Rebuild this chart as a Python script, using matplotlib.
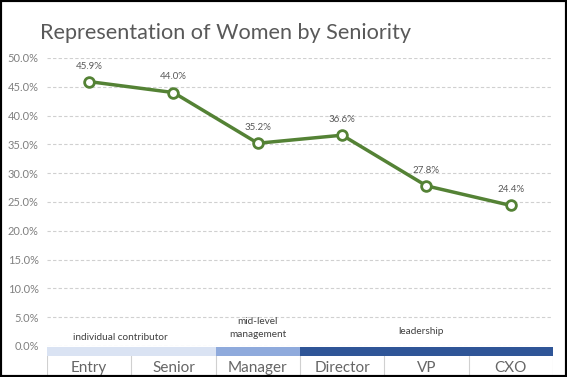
import matplotlib.pyplot as plt
from matplotlib.patches import Rectangle

levels = ["Entry", "Senior", "Manager", "Director", "VP", "CXO"]
share = [45.9, 44.0, 35.2, 36.6, 27.8, 24.4]
groups = ["individual contributor", "mid-level\nmanagement", "leadership"]
group_span = [(0, 2), (2, 3), (3, 6)]
group_colors = ["#dae3f3", "#8faadc", "#2f5597"]

W, H = 567, 377
fig = plt.figure(figsize=(W / 100, H / 100), dpi=100)
plt.rcParams['font.family'] = ['Lato', 'DejaVu Sans']

def fx(px):
    return px / W

def fy(py):
    return 1 - py / H

left, right = 47, 553
ax = fig.add_axes([fx(left), fy(346), fx(right - left), fy(58) - fy(346)])
ax.plot(range(len(levels)), share, color="#548235", lw=2.5, marker="o",
        ms=7, mfc="white", mec="#548235", mew=2, zorder=3)
for i, v in enumerate(share):
    ax.annotate(f"{v:.1f}%", (i, v), xytext=(0, 8), textcoords="offset points",
                ha="center", va="bottom", fontsize=7, color="#595959")
ax.set_xlim(-0.5, len(levels) - 0.5)
ax.set_ylim(0, 50)
ax.set_yticks([i * 5 for i in range(11)])
ax.set_yticklabels([f"{i * 5:.1f}%" for i in range(11)], fontsize=8, color="#808080")
ax.set_xticks([])
ax.tick_params(axis="y", length=0, pad=6)
ax.grid(axis="y", ls=(0, (3, 2)), color="#d0d0d0", lw=0.8)
for s in ax.spines.values():
    s.set_visible(False)
ax.set_facecolor("none")

label_pos = [(0.37, 1.5), (2, 3.1), (3.93, 2.5)]
for g, (x, y) in zip(groups, label_pos):
    ax.text(x, y, g, ha="center", va="center", fontsize=7.2, color="#404040",
            linespacing=1.5)

# band of groups
bx = fig.add_axes([fx(left), fy(356), fx(right - left), fy(347) - fy(356)])
for (a, b), c in zip(group_span, group_colors):
    bx.add_patch(Rectangle((a - 0.5, 0), b - a, 1, color=c, lw=0))
bx.set_xlim(-0.5, len(levels) - 0.5)
bx.set_ylim(0, 1)
bx.axis("off")

# category labels
cx = fig.add_axes([fx(left), 0, fx(right - left), fy(356)])
cx.set_xlim(-0.5, len(levels) - 0.5)
cx.set_ylim(0, 1)
for i, name in enumerate(levels):
    cx.text(i, 0.45, name, ha="center", va="center", fontsize=11, color="#666666")
for i in range(len(levels) + 1):
    cx.axvline(i - 0.5, color="#d0d0d0", lw=0.8)
cx.axis("off")

fig.text(fx(40), fy(33), "Representation of Women by Seniority", fontsize=15.6,
         color="#595959", va="center", ha="left")

fig.add_artist(Rectangle((0, 0), 1, 1, transform=fig.transFigure, fill=False,
                         ec="black", lw=3))

fig.savefig("out.png", dpi=100)
